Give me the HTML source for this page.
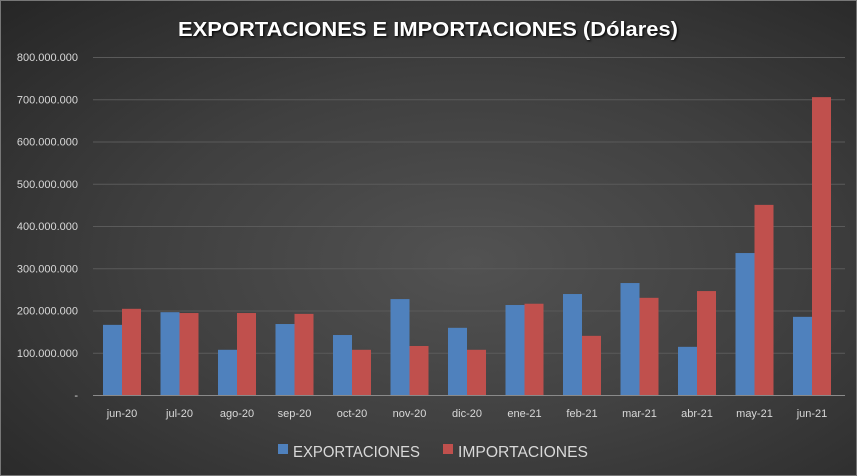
<!DOCTYPE html>
<html><head><meta charset="utf-8"><style>
html,body{margin:0;padding:0}
body{width:857px;height:476px;overflow:hidden;background:radial-gradient(ellipse at 55% 55%,#525252 0%,#3f3f3f 50%,#262626 100%);font-family:"Liberation Sans",sans-serif}
</style></head><body>
<svg width="857" height="476" xmlns="http://www.w3.org/2000/svg" style="position:absolute;left:0;top:0">
<rect x="0.5" y="0.5" width="856" height="475" fill="none" stroke="#777"/>
<text x="428" y="36" text-anchor="middle" font-family="Liberation Sans" font-weight="bold" font-size="20" fill="#fff" textLength="500" lengthAdjust="spacingAndGlyphs" style="text-shadow:1px 1px 2px #000">EXPORTACIONES E IMPORTACIONES (Dólares)</text>
<g id="grid" stroke="#5a5a5a" stroke-width="1"></g>
<g id="bars"></g>
<g id="lab" font-size="11" fill="#d9d9d9"></g>
<line x1="93" y1="395.5" x2="845" y2="395.5" stroke="#8a8a8a"/>
<rect x="278" y="444" width="10" height="10" fill="#4f81bd"/>
<text x="293" y="457" font-size="16" fill="#d9d9d9" textLength="127" lengthAdjust="spacingAndGlyphs">EXPORTACIONES</text>
<rect x="443" y="444" width="10" height="10" fill="#c0504d"/>
<text x="458" y="457" font-size="16" fill="#d9d9d9" textLength="130" lengthAdjust="spacingAndGlyphs">IMPORTACIONES</text>
</svg>
<script>
const ns="http://www.w3.org/2000/svg";
const g=document.getElementById('grid'),b=document.getElementById('bars'),l=document.getElementById('lab');
function el(t,a,p,txt){const e=document.createElementNS(ns,t);for(const k in a)e.setAttribute(k,a[k]);if(txt)e.textContent=txt;p.appendChild(e);}
const y0=395,s=42.25;
const yl=["-","100.000.000","200.000.000","300.000.000","400.000.000","500.000.000","600.000.000","700.000.000","800.000.000"];
for(let i=0;i<=8;i++){const y=y0-i*s;if(i>0)el('line',{x1:93,x2:845,y1:y+0.5,y2:y+0.5},g);el('text',{x:78,y:y+4,'text-anchor':'end'},l,yl[i]);}
const c=["jun-20","jul-20","ago-20","sep-20","oct-20","nov-20","dic-20","ene-21","feb-21","mar-21","abr-21","may-21","jun-21"];
const e=[166,196,107,168,142,227,159,213,239,265,114,336,185];
const im=[204,194,194,192,107,116,107,216,140,230,246,450,705];
for(let i=0;i<13;i++){const cx=122+i*57.5;
el('rect',{x:cx-19,y:y0-e[i]*s/100,width:19,height:e[i]*s/100,fill:'#4f81bd'},b);
el('rect',{x:cx,y:y0-im[i]*s/100,width:19,height:im[i]*s/100,fill:'#c0504d'},b);
el('text',{x:cx,y:417,'text-anchor':'middle'},l,c[i]);}
</script>
</body></html>
